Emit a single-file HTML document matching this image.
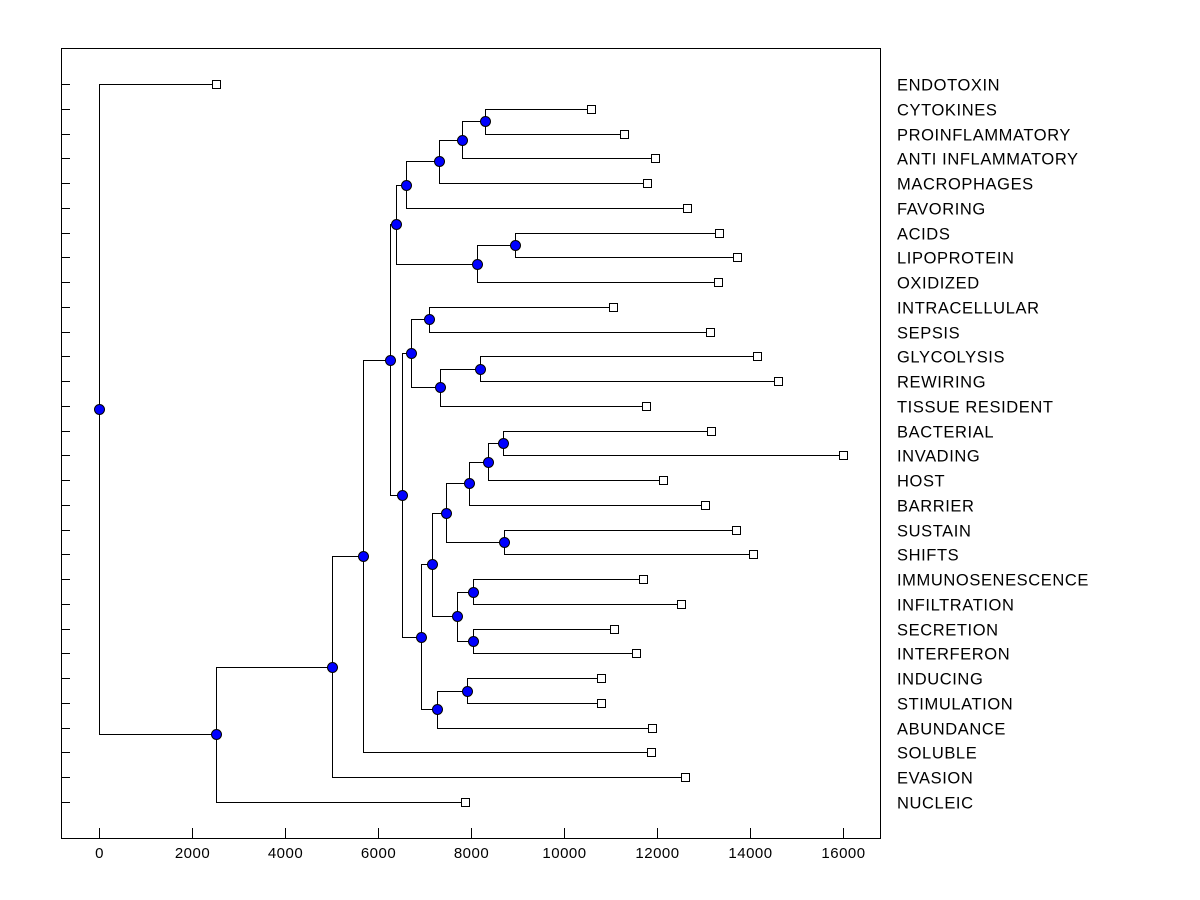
<!DOCTYPE html>
<html><head><meta charset="utf-8"><style>
body{margin:0;background:#fff;}
svg{display:block;font-family:"Liberation Sans",Arial,sans-serif;}
</style></head><body>
<svg id="chart" width="1200" height="900" viewBox="0 0 1200 900" shape-rendering="crispEdges">
<rect x="61.5" y="48.5" width="819" height="790" fill="#fff" stroke="#000" stroke-width="1"/>
<g id="axis"></g>
<g id="ticksY"></g>
<g id="links"></g>
<g id="marks"></g>
<g id="labels"></g>
</svg>
<script>
const leafNames = ["ENDOTOXIN","CYTOKINES","PROINFLAMMATORY","ANTI INFLAMMATORY","MACROPHAGES","FAVORING","ACIDS","LIPOPROTEIN","OXIDIZED","INTRACELLULAR","SEPSIS","GLYCOLYSIS","REWIRING","TISSUE RESIDENT","BACTERIAL","INVADING","HOST","BARRIER","SUSTAIN","SHIFTS","IMMUNOSENESCENCE","INFILTRATION","SECRETION","INTERFERON","INDUCING","STIMULATION","ABUNDANCE","SOLUBLE","EVASION","NUCLEIC"];
const leafValues = [2516,10580,11290,11957,11785,12645,13333,13720,13312,11054,13140,14150,14602,11763,13161,16000,12129,13032,13699,14065,11699,12516,11075,11548,10796,10796,11892,11871,12602,7871];
const nodeNames = ["n11","n10","n9","n7","n12","n8","n5","n15","n17","n16","n13","n25","n24","n22","n23","n20","n26","n27","n21","n18","n28","n19","n14","n6","n4","n3","n2","n1","root"];
const nodeValues = [8301,7806,7312,6602,8946,8129,6387,7097,8194,7333,6710,8688,8366,7957,8710,7462,8043,8043,7699,7161,7914,7269,6925,6516,6258,5677,5011,2516,0];
const nodeChildren = [["L1","L2"],["n11","L3"],["n10","L4"],["n9","L5"],["L6","L7"],["n12","L8"],["n7","n8"],["L9","L10"],["L11","L12"],["n17","L13"],["n15","n16"],["L14","L15"],["n25","L16"],["n24","L17"],["L18","L19"],["n22","n23"],["L20","L21"],["L22","L23"],["n26","n27"],["n20","n21"],["L24","L25"],["n28","L26"],["n18","n19"],["n13","n14"],["n5","n6"],["n4","L27"],["n3","L28"],["n2","L29"],["L0","n1"]];
const xTicks = [0,2000,4000,6000,8000,10000,12000,14000,16000];

const NS="http://www.w3.org/2000/svg";
const X0=99, XS=744/16000;
const xScale=v=>Math.round(X0+v*XS)+0.5;
const yTop=84, yStep=(802-84)/29;
const yRaw=i=>yTop+i*yStep;
const px=v=>Math.round(v)+0.5;
function el(tag,attrs,parent){const e=document.createElementNS(NS,tag);for(const k in attrs)e.setAttribute(k,attrs[k]);parent.appendChild(e);return e;}

const axis=document.getElementById('axis');
xTicks.forEach(t=>{
  const x=xScale(t);
  const l=el('line',{x1:x,x2:x,y1:828,y2:838,stroke:'#000'},axis);
  
  
  const tx=el('text',{x:x,y:858,'text-anchor':'middle','font-size':'15','letter-spacing':'0.5'},axis);
  tx.textContent=t;
  
  
});
const ty=document.getElementById('ticksY');
leafNames.forEach((n,i)=>{
  const y=px(yRaw(i));
  const l=el('line',{x1:61,x2:70,y1:y,y2:y,stroke:'#000'},ty);
  
  
});

const pos={};
leafNames.forEach((n,i)=>{pos['L'+i]={x:xScale(leafValues[i]),y:yRaw(i)};});
const links=document.getElementById('links'), marks=document.getElementById('marks'), labels=document.getElementById('labels');
nodeNames.forEach((n,k)=>{
  const [a,b]=nodeChildren[k];
  const pa=pos[a], pb=pos[b];
  const x=xScale(nodeValues[k]), y=(pa.y+pb.y)/2;
  pos[n]={x,y};
  const p=el('path',{d:`M${pa.x},${px(pa.y)}H${x}V${px(pb.y)}H${pb.x}`,fill:'none',stroke:'#000','stroke-width':1},links);
  
  
});
nodeNames.forEach(n=>{
  const c=el('circle',{cx:pos[n].x,cy:px(pos[n].y),r:5,fill:'#0000ff',stroke:'#000','stroke-width':1,'shape-rendering':'auto'},marks);
  
  
});
leafNames.forEach((n,i)=>{
  const p=pos['L'+i];
  const y=px(p.y);
  const r=el('rect',{x:p.x-4,y:y-4,width:8,height:8,fill:'#fff',stroke:'#000','stroke-width':1},marks);
  
  
  const t=el('text',{x:897,y:y+6,'font-size':'16.5','letter-spacing':'0.6'},labels);
  t.textContent=n;
  
  
});
</script>
</body></html>
